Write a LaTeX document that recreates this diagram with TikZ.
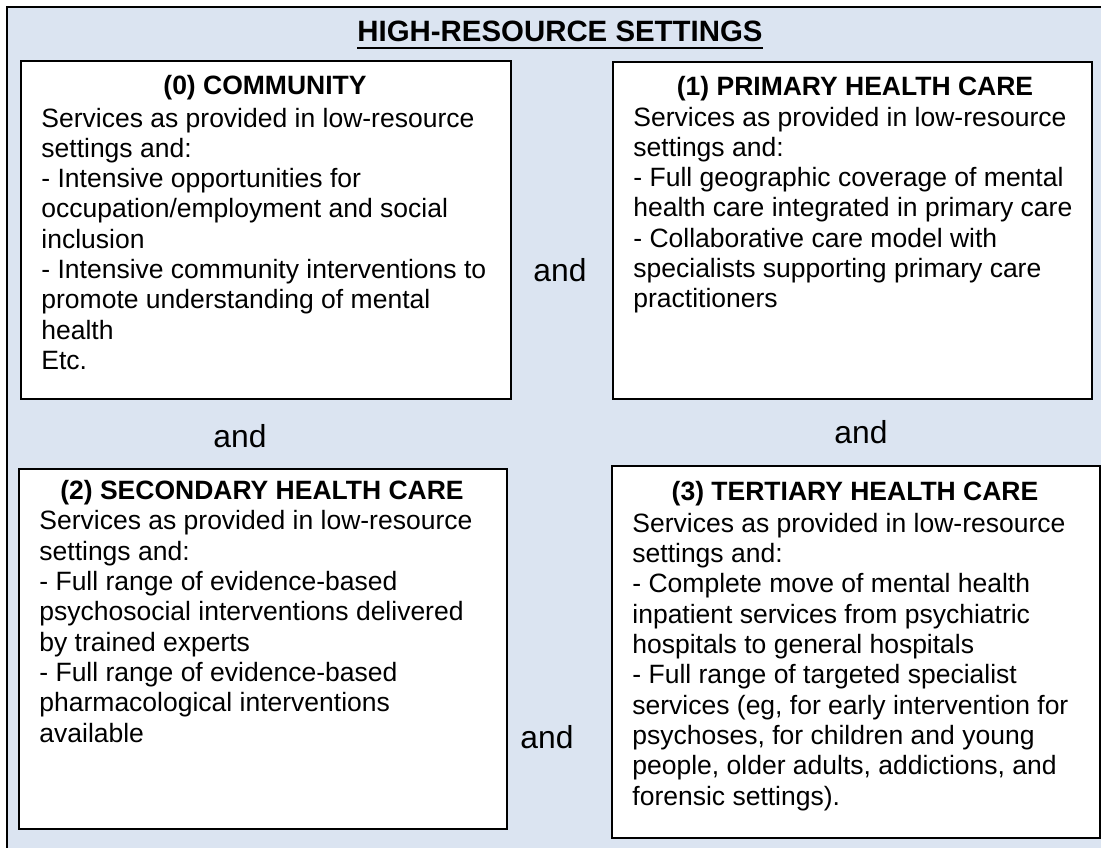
\documentclass[tikz,border=0pt]{standalone}
\usepackage{fontspec}
\setmainfont{Liberation Sans}
\usepackage{tikz}
\usetikzlibrary{positioning}
\definecolor{settingblue}{RGB}{219,228,241}
\setlength{\parindent}{0pt}

\begin{document}
\begin{tikzpicture}[x=0.5pt, y=-0.5pt,
  panel/.style={rectangle, draw=black, line width=1pt, fill=white, anchor=north west, inner sep=0pt},
  head/.style={font=\fontsize{13.25pt}{15pt}\selectfont\bfseries, inner sep=0pt, anchor=base},
  body/.style={font=\fontsize{13.25pt}{15.15pt}\selectfont, align=left, inner sep=0pt, anchor=base west},
  conj/.style={font=\fontsize{15.9pt}{18pt}\selectfont, inner sep=0pt, anchor=base},
]
  \useasboundingbox (0,0) rectangle (1101,847);

  % background frame
  \node[draw=black, line width=1pt, fill=settingblue, anchor=north west, inner sep=0pt,
        minimum width=560pt, minimum height=440pt] (frame) at (6,6) {};
  \node[font=\fontsize{14.7pt}{17pt}\selectfont\bfseries, inner sep=0pt, anchor=base] (title) at (560,41) {HIGH-RESOURCE SETTINGS};
  \draw[line width=1pt] ([yshift=-3.5pt]title.base west) -- ([yshift=-3.5pt]title.base east);

  % the four levels of care
  \node[panel, minimum width=245pt, minimum height=169pt] (comm) at (20,60) {};
  \node[panel, minimum width=239.5pt, minimum height=168.5pt] (prim) at (612,61) {};
  \node[panel, minimum width=244pt, minimum height=180pt] (sec) at (18,468) {};
  \node[panel, minimum width=244pt, minimum height=186pt] (tert) at (611,465) {};

  % body nodes sit on the baseline of their last line
  \node[head] (commhead) at (265,94) {(0) COMMUNITY};
  \node[body] (commbody) at (41,369.4) {Services as provided in low-resource\\
    settings and:\\
    - Intensive opportunities for\\
    occupation/employment and social\\
    inclusion\\
    - Intensive community interventions to\\
    promote understanding of mental\\
    health\\
    Etc.};

  \node[head] (primhead) at (855,95) {(1) PRIMARY HEALTH CARE};
  \node[body] (primbody) at (633,307.8) {Services as provided in low-resource\\
    settings and:\\
    - Full geographic coverage of mental\\
    health care integrated in primary care\\
    - Collaborative care model with\\
    specialists supporting primary care\\
    practitioners};

  \node[head] (sechead) at (262,499) {(2) SECONDARY HEALTH CARE};
  \node[body] (secbody) at (39,742) {Services as provided in low-resource\\
    settings and:\\
    - Full range of evidence-based\\
    psychosocial interventions delivered\\
    by trained experts\\
    - Full range of evidence-based\\
    pharmacological interventions\\
    available};

  \node[head] (terthead) at (855,500) {(3) TERTIARY HEALTH CARE};
  \node[body] (tertbody) at (632,805) {Services as provided in low-resource\\
    settings and:\\
    - Complete move of mental health\\
    inpatient services from psychiatric\\
    hospitals to general hospitals\\
    - Full range of targeted specialist\\
    services (eg, for early intervention for\\
    psychoses, for children and young\\
    people, older adults, addictions, and\\
    forensic settings).};

  % "and" between the boxes
  \node[conj] (and01) at (560,281) {and};
  \node[conj] (and02) at (240,447) {and};
  \node[conj] (and13) at (861,443) {and};
  \node[conj] (and23) at (547,748) {and};
\end{tikzpicture}
\end{document}
